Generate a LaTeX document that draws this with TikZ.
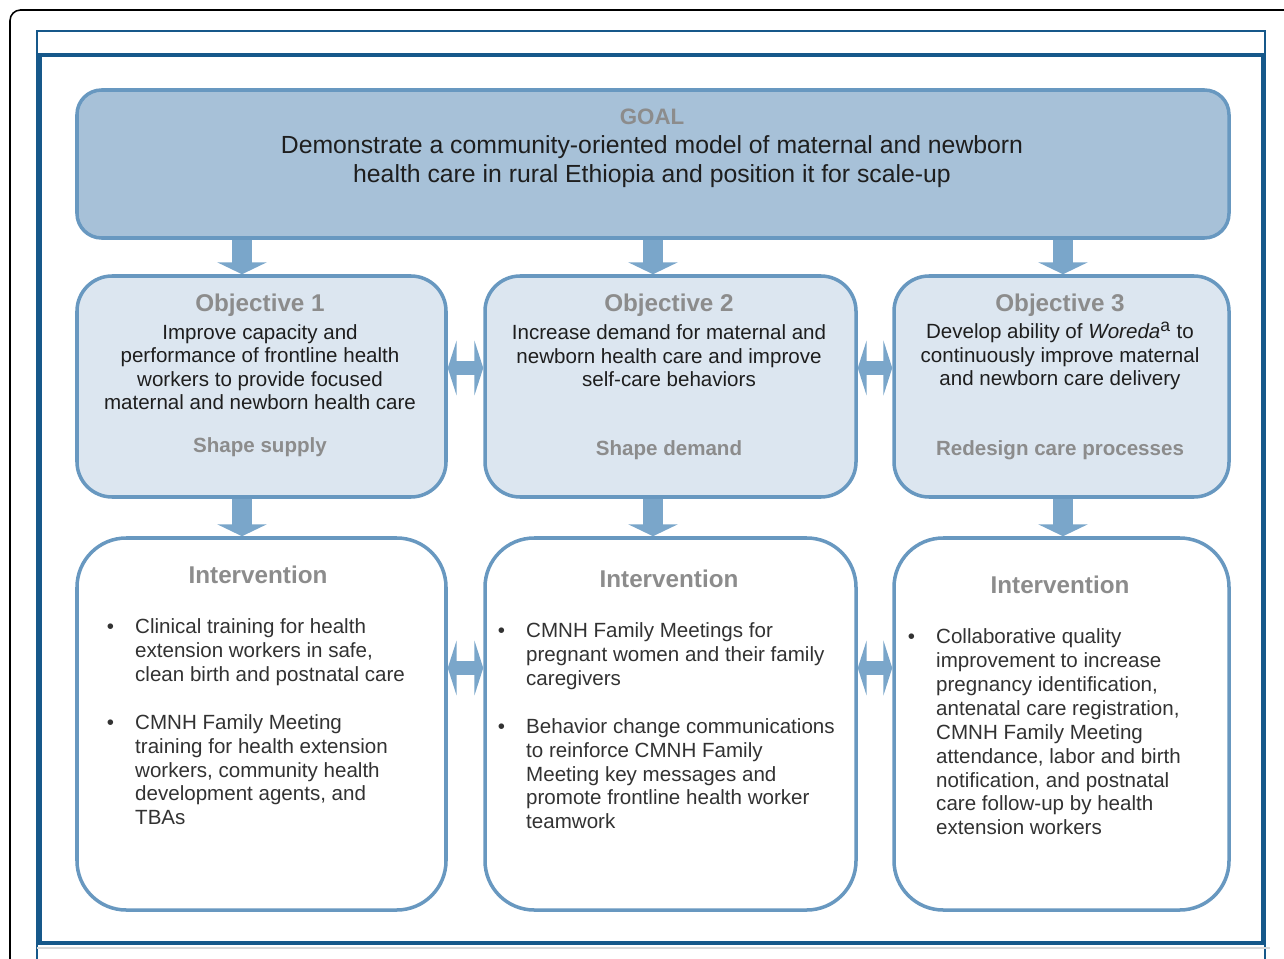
\documentclass[tikz,border=0pt]{standalone}
\usepackage{fontspec}
\setmainfont{Liberation Sans}
\usetikzlibrary{arrows.meta,fit}

\definecolor{frameblue}{RGB}{22,88,138}
\definecolor{boxline}{RGB}{104,152,192}
\definecolor{goalfill}{RGB}{167,193,216}
\definecolor{objfill}{RGB}{220,230,240}
\definecolor{arrowblue}{RGB}{122,166,202}
\definecolor{titlegray}{RGB}{140,140,140}
\definecolor{bodytext}{RGB}{30,30,30}
\definecolor{inttext}{RGB}{50,50,50}

\tikzset{
  box/.style={draw=boxline, line width=2pt, inner sep=0pt},
  goalbox/.style={box, fill=goalfill, rounded corners=14pt},
  objbox/.style={box, fill=objfill, rounded corners=20pt},
  intbox/.style={box, fill=white, rounded corners=28pt},
  boxtitle/.style={text=titlegray, inner sep=0pt, font=\fontsize{13.8}{16}\selectfont\bfseries},
  goaltext/.style={text=bodytext, inner sep=0pt, align=center, font=\fontsize{14.1}{16.4}\selectfont},
  objtext/.style={text=bodytext, inner sep=0pt, align=center, font=\fontsize{11.7}{13.4}\selectfont},
  sublabel/.style={text=titlegray, inner sep=0pt, font=\fontsize{11.7}{13.4}\selectfont\bfseries},
  bullets/.style={text=inttext, inner sep=0pt, anchor=north west, font=\fontsize{11.7}{13.6}\selectfont},
  downarrow/.style={arrowblue, line width=11.3pt, -{Triangle[length=6.8pt,width=28pt]}},
  sidearrow/.style={arrowblue, line width=8pt,
    {Triangle[length=5pt,width=31pt]}-{Triangle[length=5pt,width=31pt]}}
}

\begin{document}
\begin{tikzpicture}[x=0.02cm, y=-0.02cm]
  \useasboundingbox (0,0) rectangle (1284,959);
  % page frame
  \draw[black, line width=0.9pt, rounded corners=6pt] (10,959) -- (10,10) -- (1284,10);
  \draw[frameblue, line width=0.8pt] (37,959) -- (37,31) -- (1265,31) -- (1265,959);
  \draw[frameblue, line width=2pt] (40,55) rectangle (1263,943);
  \draw[black!15, line width=0.6pt] (37,948) -- (1270,948);

  % column and row guides for the arrows
  \coordinate (col1) at (242,0);
  \coordinate (col2) at (653,0);
  \coordinate (col3) at (1063,0);
  \coordinate (row1) at (0,368);
  \coordinate (row2) at (0,668);

  % boxes
  \node[goalbox, fit={(77,90) (1229,238)}] (goal) {};
  \node[objbox, fit={(77,276) (446,497)}] (obj1) {};
  \node[objbox, fit={(485,276) (856,497)}] (obj2) {};
  \node[objbox, fit={(894,276) (1229,497)}] (obj3) {};
  \node[intbox, fit={(77,538) (446,910)}] (int1) {};
  \node[intbox, fit={(485,538) (856,910)}] (int2) {};
  \node[intbox, fit={(894,538) (1229,910)}] (int3) {};

  % goal
  \node[boxtitle, font=\fontsize{12.7}{15}\selectfont\bfseries] (goaltitle) at (652,117) {GOAL};
  \node[goaltext] (goalbody) at (652,162)
    {Demonstrate a community-oriented model of maternal and newborn\\
     health care in rural Ethiopia and position it for scale-up};

  % objectives
  \node[boxtitle] (obj1title) at (260,305) {Objective 1};
  \node[objtext] (obj1body) at (260,367)
    {Improve capacity and\\performance of frontline health\\workers to provide focused\\maternal and newborn health care};
  \node[sublabel] (obj1sub) at (260,447) {Shape supply};

  \node[boxtitle] (obj2title) at (669,305) {Objective 2};
  \node[objtext] (obj2body) at (669,356)
    {Increase demand for maternal and\\newborn health care and improve\\self-care behaviors};
  \node[sublabel] (obj2sub) at (669,450) {Shape demand};

  \node[boxtitle] (obj3title) at (1060,305) {Objective 3};
  \node[objtext] (obj3body) at (1060,356)
    {Develop ability of \textit{Woreda}\textsuperscript{\fontsize{10}{10}\selectfont a} to\\continuously improve maternal\\and newborn care delivery};
  \node[sublabel] (obj3sub) at (1060,450) {Redesign care processes};

  % interventions
  \node[boxtitle] (int1title) at (258,575) {Intervention};
  \node[bullets] (int1body) at (106.4,616.6)
    {\begin{tabular}{@{}l@{\hspace{12.1pt}}l@{}}
      \textbullet & Clinical training for health\\
                  & extension workers in safe,\\
                  & clean birth and postnatal care\\[13.6pt]
      \textbullet & CMNH Family Meeting\\
                  & training for health extension\\
                  & workers, community health\\
                  & development agents, and\\
                  & TBAs
     \end{tabular}};

  \node[boxtitle] (int2title) at (669,579) {Intervention};
  \node[bullets] (int2body) at (497.4,620.6)
    {\begin{tabular}{@{}l@{\hspace{12.1pt}}l@{}}
      \textbullet & CMNH Family Meetings for\\
                  & pregnant women and their family\\
                  & caregivers\\[13.6pt]
      \textbullet & Behavior change communications\\
                  & to reinforce CMNH Family\\
                  & Meeting key messages and\\
                  & promote frontline health worker\\
                  & teamwork
     \end{tabular}};

  \node[boxtitle] (int3title) at (1060,585) {Intervention};
  \node[bullets] (int3body) at (907.4,626.6)
    {\begin{tabular}{@{}l@{\hspace{12.1pt}}l@{}}
      \textbullet & Collaborative quality\\
                  & improvement to increase\\
                  & pregnancy identification,\\
                  & antenatal care registration,\\
                  & CMNH Family Meeting\\
                  & attendance, labor and birth\\
                  & notification, and postnatal\\
                  & care follow-up by health\\
                  & extension workers
     \end{tabular}};

  % arrows
  \draw[downarrow] (goal.south -| col1) -- (obj1.north -| col1);
  \draw[downarrow] (goal.south -| col2) -- (obj2.north -| col2);
  \draw[downarrow] (goal.south -| col3) -- (obj3.north -| col3);
  \draw[downarrow] (obj1.south -| col1) -- (int1.north -| col1);
  \draw[downarrow] (obj2.south -| col2) -- (int2.north -| col2);
  \draw[downarrow] (obj3.south -| col3) -- (int3.north -| col3);
  \draw[sidearrow] (obj1.east |- row1) -- (obj2.west |- row1);
  \draw[sidearrow] (obj2.east |- row1) -- (obj3.west |- row1);
  \draw[sidearrow] (int1.east |- row2) -- (int2.west |- row2);
  \draw[sidearrow] (int2.east |- row2) -- (int3.west |- row2);
\end{tikzpicture}
\end{document}
